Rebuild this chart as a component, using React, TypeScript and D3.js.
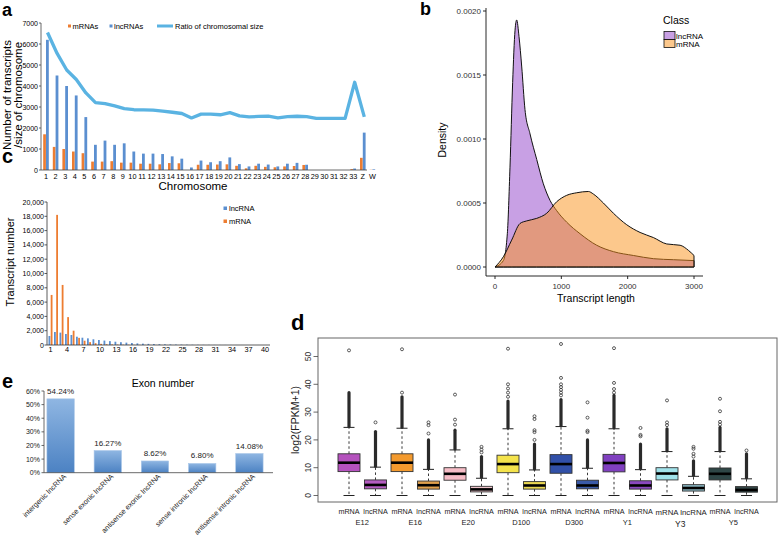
import React from 'react';
import * as d3 from 'd3';

const FONT = 'Liberation Sans, Arial, sans-serif';

// ---- panel a: transcripts per chromosome
const chromosomes = ['1','2','3','4','5','6','7','8','9','10','11','12','13','14','15','16','17','18','19','20','21','22','23','24','25','26','27','28','29','30','31','32','33','Z','W'];
const chrMRNA = [1700,1100,1000,880,800,400,400,420,350,350,300,300,270,330,320,0,250,250,260,270,200,80,200,150,130,170,190,240,0,0,0,0,40,580,10];
const chrLncRNA = [6200,4500,4000,3550,2520,1200,1400,1200,1270,880,780,780,760,650,540,120,450,370,420,600,280,170,300,260,170,300,340,250,0,0,0,0,70,1780,30];
const chrRatio = [6550,5550,4760,4310,3670,3210,3160,3050,2920,2870,2860,2850,2800,2750,2690,2480,2660,2660,2630,2730,2580,2530,2550,2560,2480,2540,2560,2540,2460,2460,2460,2460,4180,2530];
const aTicks = [0,1000,2000,3000,4000,5000,6000,7000];

// ---- panel b: density of transcript length
const lncDenX = [0,126,186,226,266,302,327,362,402,452,528,629,729,830,930,1081,1282,1533,1785,2086,2388,2690,3000];
const lncDenY = [0,0.00005,0.00026,0.00078,0.00144,0.00185,0.00193,0.0018,0.00157,0.00123,0.00104,0.00084,0.00065,0.00052,0.00044,0.00035,0.00026,0.00017,0.00012,0.00009,0.000065,0.000057,0.00005];
const mrnaDenX = [0,126,251,377,477,629,780,930,1081,1232,1408,1483,1634,1785,1986,2187,2388,2589,2790,2916,3000];
const mrnaDenY = [0,0.00008,0.00021,0.00034,0.00036,0.00038,0.00042,0.00051,0.00056,0.00058,0.00059,0.00057,0.0005,0.00042,0.00033,0.00027,0.00023,0.00018,0.00017,0.00013,0.00009];
const bYTicks = [0,0.0005,0.001,0.0015,0.002];
const bXTicks = [0,1000,2000,3000];

// ---- panel c: exon number
const exons = d3.range(1, 41).map(String);
const exonLnc = [1260,1820,1730,1540,1400,1160,1020,930,800,700,620,540,460,390,330,280,230,190,160,130,110,90,75,60,50,40,32,26,20,16,13,10,8,6,5,4,3,2,2,1];
const exonMRNA = [7000,18200,8400,3900,2000,1000,600,400,250,160,110,80,60,45,35,25,20,15,12,10,8,6,5,4,3,3,2,2,1,1,1,1,0,0,0,0,0,0,0,0];
const cTicks = [0,2000,4000,6000,8000,10000,12000,14000,16000,18000,20000];

// ---- panel d: expression box plots
const dGroups = ['E12','E16','E20','D100','D300','Y1','Y3','Y5'];
const dKinds = ['mRNA','lncRNA'];
const dLower = [0,0,0,0,0,0,0,0,0,0,0,0,0,0,0,0];
const dQ1 = [8.6,2.4,8.6,2.3,5.5,1.3,8.2,2.3,8.0,2.4,8.5,2.3,5.6,1.6,5.6,1.2];
const dMedian = [11.8,3.8,11.8,3.7,7.8,2.2,11.3,3.6,11.3,3.6,11.7,3.6,7.9,2.7,7.8,2.0];
const dQ3 = [15,5.6,15,5.2,10,3.3,14.5,5,14.7,5.5,14.8,5.3,10,3.9,9.9,3.2];
const dUpper = [24.5,10.2,24.2,9.4,16.4,6.2,24,9.2,24.8,9.8,24,9.3,15.8,6.9,15.8,6];
const dDenseTo = [37,23,35.5,20,23.5,14,34,18.5,34.5,20,36,18.5,24,12.5,24.5,15];
const dSparse = [[52.2],[26.3],[37,52.6],[22.3,25.3,26.3],[25.5,27.3,36.3],[15.5,16.5,17.5],[35.5,37,38.5,40,52.8],[20,22.8,23.5,27.5,28.5],[36,37,38,39,40,42.3,54.5],[22.8,23.3,28,33.5],[37,38.3,40.5,53],[21.3,21.8,24.3],[25.3,26.3,34.2],[14,15,16.8,17.5],[25.5,26.5,30.3,34.8],[16.2]];
const dColors = ['#b552be','#b45cc0','#f39a2e','#dfa04c','#f6bcc6','#f0c4cc','#f4e34c','#e9d752','#3150a8','#3a5aa8','#8040c0','#8a48bf','#a0e2ea','#8ab6c2','#2e4646','#354848'];
const dTicks = [0,10,20,30,40,50];

// ---- panel e: lncRNA classes
const eClasses = ['intergenic lncRNA','sense exonic lncRNA','antisense exonic lncRNA','sense intronic lncRNA','antisense intronic lncRNA'];
const ePercent = [54.24,16.27,8.62,6.80,14.08];
const eTicks = [0,10,20,30,40,50,60];

const ORANGE = '#ed7d31';
const BLUE = '#5b8fd0';

function PanelA() {
  const x = d3.scaleBand().domain(chromosomes).range([41.2, 41.2 + 35 * 9.6]);
  const y = d3.scaleLinear().domain([0, 7000]).range([170, 23]);
  const cx = (c: string) => (x(c) as number) + x.bandwidth() / 2;
  const line = d3.line<number>().x((_, i) => cx(chromosomes[i]) + 1.5).y(d => y(d));
  return (
    <g>
      <text x={2} y={16} fontSize={18} fontWeight="bold">a</text>
      {chromosomes.map((c, i) => (
        <g key={c}>
          <rect x={cx(c) - 2.8} y={y(chrMRNA[i])} width={2.7} height={y(0) - y(chrMRNA[i])} fill={ORANGE} />
          <rect x={cx(c)} y={y(chrLncRNA[i])} width={2.8} height={y(0) - y(chrLncRNA[i])} fill={BLUE} />
        </g>
      ))}
      <path d={line(chrRatio) as string} fill="none" stroke="#5ab3e2" strokeWidth={3.3} strokeLinejoin="round" />
      <line x1={41} x2={41} y1={23} y2={170} stroke="#444" strokeWidth={0.8} />
      <line x1={41} x2={367} y1={170} y2={170} stroke="#444" strokeWidth={0.8} />
      {aTicks.map(t => (
        <g key={t}>
          <line x1={39} x2={41} y1={y(t)} y2={y(t)} stroke="#444" strokeWidth={0.8} />
          <text x={38} y={y(t) + 2.5} fontSize={7} textAnchor="end">{t}</text>
        </g>
      ))}
      {chromosomes.map(c => (
        <text key={c} x={cx(c)} y={179} fontSize={7.3} textAnchor="middle">{c}</text>
      ))}
      <text x={193} y={190} fontSize={11.5} textAnchor="middle">Chromosome</text>
      <g transform="translate(11,95) rotate(-90)">
        <text x={0} y={0} fontSize={11.5} textAnchor="middle">Number of  transcripts</text>
        <text x={0} y={10.5} fontSize={11.5} textAnchor="middle">/size of chromosome</text>
      </g>
      <rect x={68} y={24.5} width={3} height={3} fill={ORANGE} />
      <text x={72.5} y={28.5} fontSize={7.5}>mRNAs</text>
      <rect x={109.5} y={24.5} width={3} height={3} fill={BLUE} />
      <text x={114} y={28.5} fontSize={7.5}>lncRNAs</text>
      <line x1={157} x2={173} y1={26} y2={26} stroke="#5ab3e2" strokeWidth={3} />
      <text x={175} y={28.5} fontSize={7.5}>Ratio of chromosomal size</text>
    </g>
  );
}

function PanelB() {
  const x = d3.scaleLinear().domain([0, 3000]).range([495, 694]);
  const y = d3.scaleLinear().domain([0, 0.002]).range([267, 11]);
  const area = (xs: number[], ys: number[]) =>
    d3.area<number>().x((_, i) => x(xs[i])).y0(y(0)).y1(d => y(d)).curve(d3.curveMonotoneX)(ys) as string;
  return (
    <g>
      <text x={420} y={15} fontSize={18} fontWeight="bold">b</text>
      <path d={area(lncDenX, lncDenY)} fill="#9141c9" fillOpacity={0.5} stroke="#111" strokeWidth={1} />
      <path d={area(mrnaDenX, mrnaDenY)} fill="#f99119" fillOpacity={0.5} stroke="#111" strokeWidth={1} />
      <line x1={486} x2={486} y1={8} y2={276} stroke="#111" strokeWidth={0.9} />
      <line x1={486} x2={703} y1={276} y2={276} stroke="#111" strokeWidth={0.9} />
      {bYTicks.map(t => (
        <g key={t}>
          <line x1={483} x2={486} y1={y(t)} y2={y(t)} stroke="#111" strokeWidth={0.9} />
          <text x={481} y={y(t) + 3} fontSize={8} textAnchor="end" fill="#333">{t.toFixed(4)}</text>
        </g>
      ))}
      {bXTicks.map(t => (
        <g key={t}>
          <line x1={x(t)} x2={x(t)} y1={276} y2={279} stroke="#111" strokeWidth={0.9} />
          <text x={x(t)} y={289} fontSize={8} textAnchor="middle" fill="#333">{t}</text>
        </g>
      ))}
      <text x={596} y={302} fontSize={10.5} textAnchor="middle">Transcript length</text>
      <text transform="translate(446,140) rotate(-90)" fontSize={10.5} textAnchor="middle">Density</text>
      <text x={663} y={24} fontSize={10.5}>Class</text>
      <rect x={664} y={31.5} width={11} height={8} fill="#9141c9" fillOpacity={0.5} stroke="#111" strokeWidth={0.8} />
      <rect x={664} y={39.5} width={11} height={8} fill="#f99119" fillOpacity={0.5} stroke="#111" strokeWidth={0.8} />
      <text x={676} y={38.5} fontSize={8}>lncRNA</text>
      <text x={676} y={46.5} fontSize={8}>mRNA</text>
    </g>
  );
}

function PanelC() {
  const x = d3.scaleBand().domain(exons).range([47.75, 47.75 + 40 * 5.5]);
  const y = d3.scaleLinear().domain([0, 20000]).range([345, 202]);
  const cx = (e: string) => (x(e) as number) + x.bandwidth() / 2;
  const fmt = d3.format(',');
  return (
    <g>
      <text x={2} y={163} fontSize={20} fontWeight="bold">c</text>
      {exons.map((e, i) => (
        <g key={e}>
          <rect x={cx(e) - 2} y={y(exonLnc[i])} width={1.8} height={y(0) - y(exonLnc[i])} fill={BLUE} />
          <rect x={cx(e) + 0.2} y={y(exonMRNA[i])} width={1.8} height={y(0) - y(exonMRNA[i])} fill={ORANGE} />
        </g>
      ))}
      <line x1={47} x2={47} y1={202} y2={345} stroke="#333" strokeWidth={0.8} />
      <line x1={47} x2={270} y1={345} y2={345} stroke="#333" strokeWidth={0.8} />
      {cTicks.map(t => (
        <g key={t}>
          <line x1={44.5} x2={47} y1={y(t)} y2={y(t)} stroke="#333" strokeWidth={0.8} />
          <text x={44} y={y(t) + 2.5} fontSize={7} textAnchor="end">{fmt(t)}</text>
        </g>
      ))}
      {exons.filter((_, i) => i % 3 === 0).map(e => (
        <text key={e} x={cx(e)} y={352} fontSize={7.3} textAnchor="middle">{e}</text>
      ))}
      <text x={163} y={387} fontSize={10.5} textAnchor="middle">Exon number</text>
      <text transform="translate(14,262) rotate(-90)" fontSize={11} textAnchor="middle">Transcript number</text>
      <rect x={223.5} y={206.5} width={3.5} height={3.5} fill={BLUE} />
      <text x={229} y={211} fontSize={7.5}>lncRNA</text>
      <rect x={223.5} y={219.5} width={3.5} height={3.5} fill={ORANGE} />
      <text x={229} y={224} fontSize={7.5}>mRNA</text>
    </g>
  );
}

function PanelD() {
  const labels = dGroups.flatMap(g => dKinds.map(k => `${g} ${k}`));
  const x = d3.scaleBand().domain(labels).range([349 - 13.25, 349 - 13.25 + 16 * 26.5]);
  const y = d3.scaleLinear().domain([0, 50]).range([495.5, 356.5]);
  const cx = (i: number) => (x(labels[i]) as number) + x.bandwidth() / 2;
  const hw = 11;
  return (
    <g>
      <text x={291} y={330} fontSize={22} fontWeight="bold">d</text>
      {labels.map((l, i) => {
        const c = cx(i);
        const big = i === 12 || i === 13;
        return (
          <g key={l}>
            <line x1={c} x2={c} y1={y(dQ3[i])} y2={y(dUpper[i])} stroke="#222" strokeWidth={0.9} strokeDasharray="2.5,2.5" />
            <line x1={c} x2={c} y1={y(dQ1[i])} y2={y(dLower[i])} stroke="#222" strokeWidth={0.9} strokeDasharray="2.5,2.5" />
            <line x1={c - hw / 2} x2={c + hw / 2} y1={y(dUpper[i])} y2={y(dUpper[i])} stroke="#222" strokeWidth={1} />
            <line x1={c - hw / 2} x2={c + hw / 2} y1={y(dLower[i])} y2={y(dLower[i])} stroke="#222" strokeWidth={1} />
            <line x1={c} x2={c} y1={y(dUpper[i]) - 1} y2={y(dDenseTo[i])} stroke="#2a2a2a" strokeWidth={3.2} strokeLinecap="round" />
            {dSparse[i].map((v, j) => (
              <circle key={j} cx={c} cy={y(v)} r={1.5} fill="none" stroke="#333" strokeWidth={0.8} />
            ))}
            <rect x={c - hw} y={y(dQ3[i])} width={hw * 2} height={y(dQ1[i]) - y(dQ3[i])} fill={dColors[i]} stroke="#333" strokeWidth={0.9} />
            <line x1={c - hw} x2={c + hw} y1={y(dMedian[i])} y2={y(dMedian[i])} stroke="#000" strokeWidth={2.6} />
            <text x={c} y={big ? 515 : 514} fontSize={big ? 7.8 : 7.2} textAnchor="middle" fill="#222">{dKinds[i % 2]}</text>
          </g>
        );
      })}
      {dGroups.map((g, gi) => (
        <text key={g} x={(cx(gi * 2) + cx(gi * 2 + 1)) / 2} y={g === 'Y3' ? 527 : 525} fontSize={g === 'Y3' ? 8.5 : 7.5} textAnchor="middle" fill="#222">{g}</text>
      ))}
      <rect x={318} y={338} width={459} height={164} fill="none" stroke="#666" strokeWidth={1} />
      {dTicks.map(t => (
        <g key={t}>
          <line x1={313.5} x2={318} y1={y(t)} y2={y(t)} stroke="#444" strokeWidth={0.8} />
          <text transform={`translate(311,${y(t)}) rotate(-90)`} fontSize={8.5} textAnchor="middle" fill="#333">{t}</text>
        </g>
      ))}
      <text transform="translate(299,420) rotate(-90)" fontSize={10.5} textAnchor="middle" fill="#222">log2(FPKM+1)</text>
    </g>
  );
}

function PanelE() {
  const x = d3.scaleBand().domain(eClasses).range([37, 273]).paddingInner(0.42).paddingOuter(0.21);
  const y = d3.scaleLinear().domain([0, 60]).range([472.7, 391]);
  return (
    <g>
      <defs>
        <linearGradient id="eGrad" x1="0" y1="0" x2="0" y2="1">
          <stop offset="0%" stopColor="#8fb6e2" />
          <stop offset="100%" stopColor="#4c82c3" />
        </linearGradient>
      </defs>
      <text x={2} y={388} fontSize={20} fontWeight="bold">e</text>
      {eClasses.map((c, i) => {
        const bx = x(c) as number;
        const mid = bx + x.bandwidth() / 2;
        return (
          <g key={c}>
            <rect x={bx} y={y(ePercent[i])} width={x.bandwidth()} height={y(0) - y(ePercent[i])} fill="url(#eGrad)" stroke="#a9c6e8" strokeWidth={0.6} />
            <text x={mid} y={y(ePercent[i]) - 5} fontSize={8} textAnchor="middle" fill="#222">{ePercent[i].toFixed(2)}%</text>
            <text transform={`translate(${mid + 6},${477}) rotate(-45)`} fontSize={7.2} textAnchor="end" fill="#222">{c}</text>
          </g>
        );
      })}
      <line x1={44} x2={44} y1={391} y2={472.7} stroke="#444" strokeWidth={0.8} />
      <line x1={44} x2={273} y1={472.7} y2={472.7} stroke="#444" strokeWidth={0.8} />
      {eTicks.map(t => (
        <g key={t}>
          <line x1={41.5} x2={44} y1={y(t)} y2={y(t)} stroke="#444" strokeWidth={0.8} />
          <text x={40} y={y(t) + 2.5} fontSize={7} textAnchor="end" fill="#222">{t}%</text>
        </g>
      ))}
    </g>
  );
}

export default function App() {
  return (
    <svg width={778} height={539} style={{ position: 'absolute', left: 0, top: 0, background: '#fff' }} fontFamily={FONT}>
      <rect width={778} height={539} fill="#fff" />
      <PanelA />
      <PanelB />
      <PanelC />
      <PanelD />
      <PanelE />
    </svg>
  );
}
